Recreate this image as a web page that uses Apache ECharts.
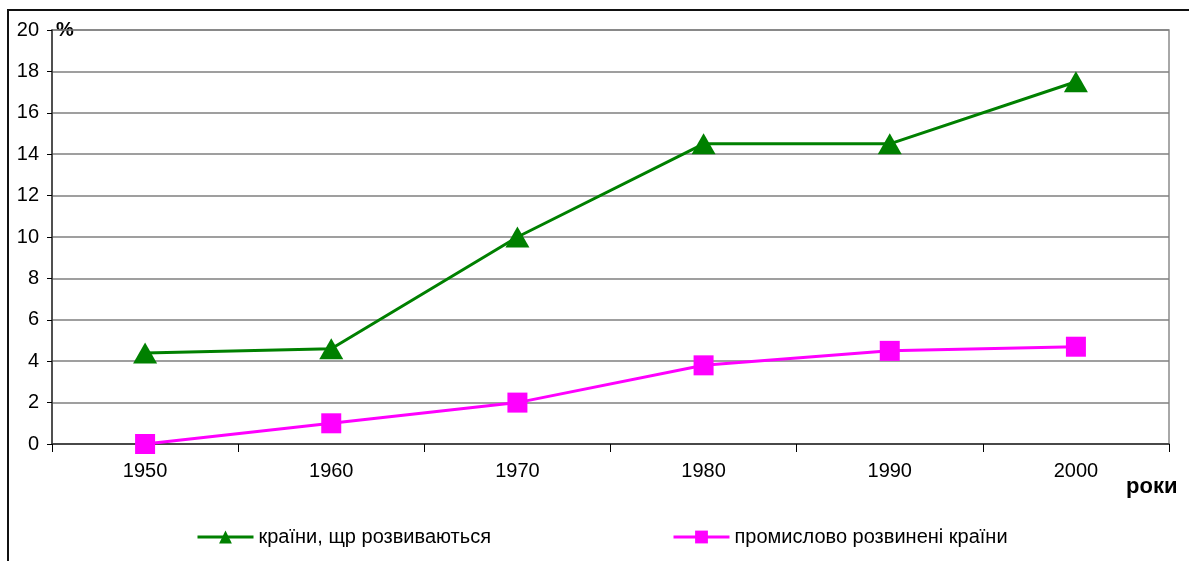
<!DOCTYPE html>
<html>
<head>
<meta charset="utf-8">
<script src="https://cdn.jsdelivr.net/npm/echarts@6/dist/echarts.min.js"></script>
<style>
  html, body { margin: 0; padding: 0; background: #fff; }
  #chart { width: 1189px; height: 561px; }
</style>
</head>
<body>
<div id="chart"></div>
<script>
  const years = ["1950", "1960", "1970", "1980", "1990", "2000"];
  const developing = [4.4, 4.6, 10, 14.5, 14.5, 17.5];
  const industrial = [0, 1, 2, 3.8, 4.5, 4.7];
  const seriesNames = ["країни, щр розвиваються", "промислово розвинені країни"];

  const font = "'Liberation Sans', Arial, sans-serif";
  const chart = echarts.init(document.getElementById("chart"), null, { renderer: "canvas" });

  chart.setOption({
    animation: false,
    backgroundColor: "#fff",
    textStyle: { fontFamily: font },
    grid: {
      left: 52, right: 20, top: 30, bottom: 117,
      show: true, borderColor: "#8c8c8c", borderWidth: 1.5,
    },
    graphic: [
      {
        type: "polyline",
        shape: { points: [[8, 561], [8, 10], [1189, 10]] },
        style: { stroke: "#111", lineWidth: 2, fill: null },
        silent: true,
      },
      {
        type: "text",
        left: 56, top: 20,
        style: { text: "%", font: "bold 20px " + font, fill: "#000" },
      },
      {
        type: "text",
        left: 1126, top: 476,
        style: { text: "роки", font: "bold 22px " + font, fill: "#000" },
      },
    ],
    legend: {
      left: 191, top: 522,
      itemGap: 181,
      itemWidth: 56, itemHeight: 16,
      lineStyle: { width: 3 },
      textStyle: { fontSize: 20, color: "#000", fontFamily: font },
      data: seriesNames,
    },
    xAxis: {
      type: "category",
      data: years,
      boundaryGap: true,
      axisLine: { lineStyle: { color: "#333", width: 1.5 } },
      axisTick: { show: true, length: 8, lineStyle: { color: "#000" } },
      axisLabel: { color: "#000", fontSize: 20, margin: 17, fontFamily: font },
      splitLine: { show: false },
    },
    yAxis: {
      type: "value",
      min: 0, max: 20, interval: 2,
      axisLine: { show: true, lineStyle: { color: "#333", width: 1.5 } },
      axisTick: { show: true, length: 5, lineStyle: { color: "#000" } },
      axisLabel: { color: "#000", fontSize: 20, margin: 13, fontFamily: font },
      splitLine: { lineStyle: { color: "#7f7f7f", width: 1.5 } },
    },
    series: [
      {
        name: seriesNames[0],
        type: "line",
        data: developing,
        symbol: "triangle",
        symbolSize: [24, 21],
        lineStyle: { color: "#008000", width: 3 },
        itemStyle: { color: "#008000" },
      },
      {
        name: seriesNames[1],
        type: "line",
        data: industrial,
        symbol: "rect",
        symbolSize: 20,
        lineStyle: { color: "#ff00ff", width: 3 },
        itemStyle: { color: "#ff00ff" },
      },
    ],
  });
</script>
</body>
</html>
